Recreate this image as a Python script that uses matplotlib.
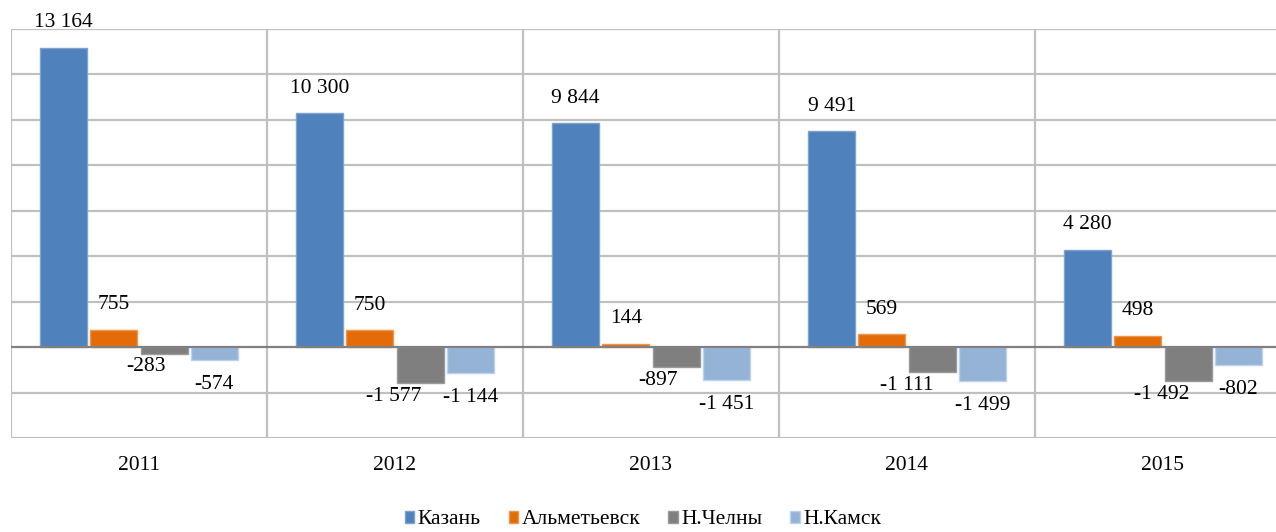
import numpy as np
import matplotlib
matplotlib.use("Agg")
import matplotlib.pyplot as plt
from matplotlib.patches import Patch

plt.rcParams['font.family'] = ['Liberation Serif', 'DejaVu Serif']

years = ['2011', '2012', '2013', '2014', '2015']
series = ['Казань', 'Альметьевск', 'Н.Челны', 'Н.Камск']
kazan = [13164, 10300, 9844, 9491, 4280]
almet = [755, 750, 144, 569, 498]
chelny = [-283, -1577, -897, -1111, -1492]
kamsk = [-574, -1144, -1451, -1499, -802]
labels = ['13 164', '10 300', '9 844', '9 491', '4 280'], \
         ['755', '750', '144', '569', '498'], \
         ['-283', '-1 577', '-897', '-1 111', '-1 492'], \
         ['-574', '-1 144', '-1 451', '-1 499', '-802']

colors = ['#4F81BD', '#E36C09', '#7F7F7F', '#95B3D7']
edges = ['#7EA2CE', '#EE9550', '#9A9A9A', '#B9D3EC']

fig = plt.figure(figsize=(12.76, 5.32), dpi=100)
ax = fig.add_axes([11 / 1276, 1 - 438 / 532, 1280 / 1276, (438 - 29) / 532])

x = np.arange(len(years))
step = 0.196
width = 0.184
data = [kazan, almet, chelny, kamsk]
fs = 15.5
for i, vals in enumerate(data):
    pos = x + (i - 1.5) * step
    ax.bar(pos, vals, width, color=colors[i], edgecolor=edges[i], linewidth=1, zorder=3)
    for p, v, t in zip(pos, vals, labels[i]):
        if i < 2:
            ax.annotate(t, (p, v), xytext=(0, 18), textcoords='offset points',
                        ha='center', va='center', fontsize=fs)
        elif i == 2:
            ax.annotate(t, (p, v), xytext=(1, -9.5), textcoords='offset points',
                        ha='right', va='center', fontsize=fs)
        else:
            ax.annotate(t, (p, v), xytext=(0, -17.5), textcoords='offset points',
                        ha='center', va='center', fontsize=fs)

ax.set_xlim(-0.5, 4.5)
ax.set_ylim(-4000, 14000)
for yv in range(-4000, 14001, 2000):
    if yv != 0:
        ax.axhline(yv, color='#C0C0C0', lw=1.6, zorder=1)
for xv in np.arange(-0.5, 4.6, 1):
    ax.axvline(xv, color='#C0C0C0', lw=1.6, zorder=1)
ax.axhline(0, color='#808080', lw=1.6, zorder=4)

for s in ax.spines.values():
    s.set_visible(False)
ax.set_yticks([])
ax.set_xticks(x)
ax.set_xticklabels(years, fontsize=fs)
ax.tick_params(axis='x', length=0, pad=13)

handles = [Patch(facecolor=c, edgecolor=e) for c, e in zip(colors, edges)]
fig.legend(handles, series, loc='center', bbox_to_anchor=(643 / 1276, 1 - 520 / 532),
           ncol=4, frameon=False, fontsize=fs, handlelength=0.45, handleheight=0.45,
           handletextpad=0.15, columnspacing=1.3, borderpad=0)

fig.savefig('out.png', dpi=100)
